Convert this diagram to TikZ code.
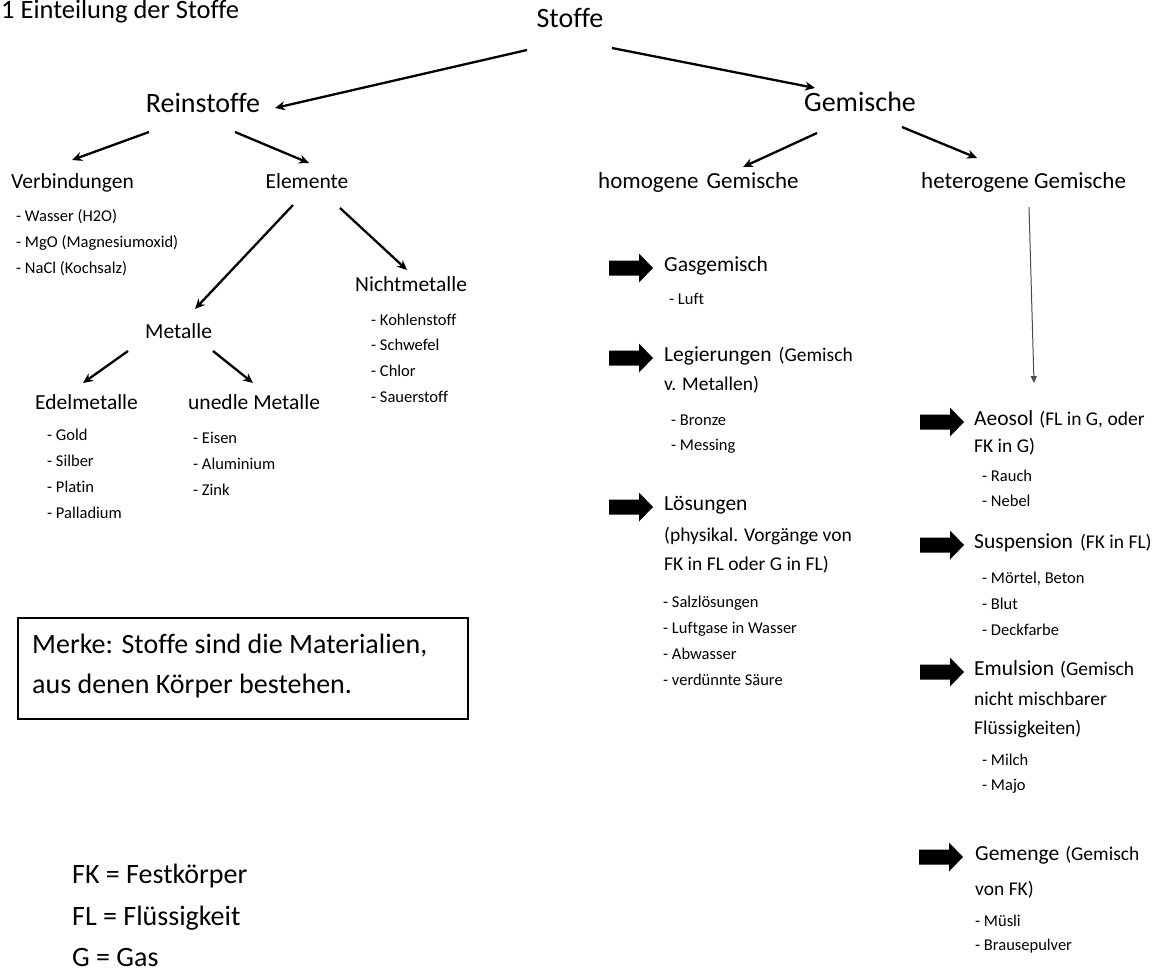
\documentclass[tikz,border=0pt]{standalone}
\usepackage{fontspec}
\setmainfont{Carlito}[Ligatures={NoCommon}]
\usetikzlibrary{arrows.meta}
\newcommand\fsz[1]{\fontsize{#1}{#1}\selectfont}
\newcommand\blockarr[2]{%
  \fill (#1,#2) ++(0,-7.5) -- ++(30,0) -- ++(0,-7) -- ++(14,14.5) -- ++(-14,14.5) -- ++(0,-7) -- ++(-30,0) -- cycle;}
\newcommand\itemlist[5]{%
  \foreach \t [count=\i from 0] in {#5} {\node[itm] (#1\i) at (#2,{#3+\i*#4}) {\t};}}
\tikzset{
  txt/.style={inner sep=0pt, text height=0.65em, text depth=0pt, anchor=west},
  tops/.style={txt, font=\fsz{28}},
  lvl/.style={txt, font=\fsz{21.5}},
  sub/.style={txt, font=\fsz{23}},
  note/.style={txt, font=\fsz{19.5}},
  itm/.style={txt, font=\fsz{16.5}},
  arr/.style={line width=2.3pt, -{Stealth[length=10pt,width=9pt]}},
  thinarr/.style={line width=1pt, black!70, -{Triangle[length=7pt,width=6pt]}},
}
\begin{document}
\begin{tikzpicture}[x=1pt,y=-1pt]
\useasboundingbox (0,0) rectangle (1158,978);

% title
\node[txt, font=\fsz{26.5}] (title) at (1,15) {1 Einteilung der Stoffe};

% top levels
\node[tops, anchor=center] (stoffe) at (570,24) {Stoffe};
\node[tops, anchor=center] (rein) at (203,109) {Reinstoffe};
\node[tops, anchor=center] (gem) at (860,108) {Gemische};

% left branch
\node[lvl] (verb) at (11,185) {Verbindungen};
\node[lvl, anchor=center] (elem) at (307,185) {Elemente};
\node[lvl] (nicht) at (355,288) {Nichtmetalle};
\node[lvl] (metalle) at (145,335) {Metalle};
\node[lvl] (edel) at (35,406) {Edelmetalle};
\node[lvl] (unedel) at (188,406) {unedle Metalle};

\itemlist{v}{16}{218}{26}{- Wasser (H2O), - MgO (Magnesiumoxid), - NaCl (Kochsalz)}
\itemlist{n}{371}{322}{25.7}{- Kohlenstoff, - Schwefel, - Chlor, - Sauerstoff}
\itemlist{e}{47}{437}{26}{- Gold, - Silber, - Platin, - Palladium}
\itemlist{u}{193}{440}{26}{- Eisen, - Aluminium, - Zink}

% right branch headings
\node[sub] (homo) at (598,185) {homogene\hspace{3pt} Gemische};
\node[sub] (hetero) at (921,185) {heterogene Gemische};

% homogene column
\blockarr{609}{268}
\node[lvl] (gas) at (664,268) {Gasgemisch};
\node[itm] (luft) at (669,301) {- Luft};
\blockarr{609}{358}
\node[lvl] (leg) at (664,358) {Legierungen\hspace{7pt}{\fsz{19.5}(Gemisch}};
\node[note] (leg2) at (664,387) {v. Metallen)};
\itemlist{l}{671}{422}{25}{- Bronze, - Messing}
\blockarr{609}{507}
\node[lvl] (loes) at (664,507) {Lösungen};
\node[note] (loes2) at (664,538) {(physikal. Vorgänge von};
\node[note] (loes3) at (664,567) {FK in FL oder G in FL)};
\itemlist{s}{663}{604}{26}{- Salzlösungen, - Luftgase in Wasser, - Abwasser, - verdünnte Säure}

% heterogene column
\coordinate (hetend) at (1034,383);
\blockarr{920}{422}
\node[lvl] (aeo) at (974,422) {Aeosol\hspace{6pt}{\fsz{19.5}(FL in G, oder}};
\node[note] (aeo2) at (974,449) {FK in G)};
\itemlist{a}{982}{478}{25}{- Rauch, - Nebel}
\blockarr{920}{545}
\node[lvl] (susp) at (974,545) {Suspension\hspace{7pt}{\fsz{19.5}(FK in FL)}};
\itemlist{p}{982}{580}{26}{{- Mörtel, Beton}, - Blut, - Deckfarbe}
\blockarr{920}{672}
\node[lvl] (emul) at (974,672) {Emulsion\hspace{6pt}{\fsz{19.5}(Gemisch}};
\node[note] (emul2) at (974,702) {nicht mischbarer};
\node[note] (emul3) at (974,731) {Flüssigkeiten)};
\itemlist{m}{982}{762}{25}{- Milch, - Majo}
\blockarr{919}{857}
\node[lvl] (gemenge) at (975,857) {Gemenge\hspace{6pt}{\fsz{19.5}(Gemisch}};
\node[note] (gemenge2) at (975,892) {von FK)};
\itemlist{g}{975}{923}{24}{- Müsli, - Brausepulver}

% Merke box
\node[draw, line width=1.3pt, minimum width=450pt, minimum height=101pt, inner sep=0pt] (merke) at (243,668.5) {};
\node[tops] (merke1) at (32,650) {Merke: Stoffe sind die Materialien,};
\node[tops] (merke2) at (32,690) {aus denen Körper bestehen.};

% legend
\node[tops] (fk) at (72,880) {FK = Festkörper};
\node[tops] (fl) at (72,922) {FL = Flüssigkeit};
\node[tops] (g) at (72,963) {G = Gas};

% arrow end points
\coordinate (s1) at (527,50);  \coordinate (r1) at (275,108);
\coordinate (s2) at (612,48);  \coordinate (g1) at (815,88);
\coordinate (r2) at (149,132); \coordinate (v1) at (72,160);
\coordinate (r3) at (235,132); \coordinate (e1) at (309,163);
\coordinate (e2) at (293,205); \coordinate (m1) at (195,309);
\coordinate (e3) at (340,208); \coordinate (n1) at (407,270);
\coordinate (m2) at (128,351); \coordinate (ed1) at (83,383);
\coordinate (m3) at (213,351); \coordinate (un1) at (253,383);
\coordinate (g2) at (817,133); \coordinate (ho1) at (743,167);
\coordinate (g3) at (902,127); \coordinate (he1) at (977,158);
\coordinate (he2) at (1029,207);

\draw[arr] (s1) -- (r1);
\draw[arr] (s2) -- (g1);
\draw[arr] (r2) -- (v1);
\draw[arr] (r3) -- (e1);
\draw[arr] (e2) -- (m1);
\draw[arr] (e3) -- (n1);
\draw[arr] (m2) -- (ed1);
\draw[arr] (m3) -- (un1);
\draw[arr] (g2) -- (ho1);
\draw[arr] (g3) -- (he1);
\draw[thinarr] (he2) -- (hetend);
\end{tikzpicture}
\end{document}
